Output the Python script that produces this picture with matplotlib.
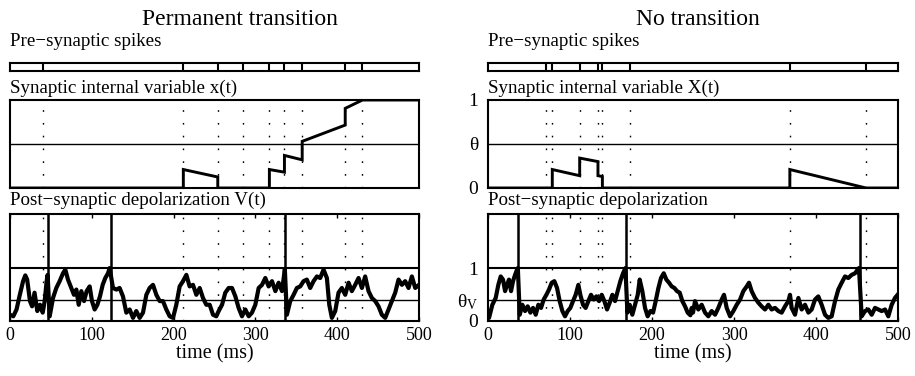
import matplotlib
matplotlib.use('Agg')
import matplotlib.pyplot as plt

plt.rcParams['font.family'] = ['Liberation Serif', 'DejaVu Serif']
plt.rcParams['mathtext.fontset'] = 'custom'
plt.rcParams['mathtext.rm'] = 'Liberation Serif'

W, H = 915, 376

# pre-synaptic spike times (ms)
pre_left = [40.7, 211.9, 254, 285.3, 317.1, 335.5, 357.2, 409.8, 430.9]
pre_right = [70.4, 78.4, 111.8, 134.1, 139.5, 172.8, 368.1, 461]

# post-synaptic spike times (ms)
post_left = [46.5, 123, 336.6]
post_right = [36.6, 167.8, 453.7]

# synaptic internal variable X(t)
x_t_left = [0, 211.9, 211.9, 254, 254, 317.1, 317.1, 335.5, 335.5, 357.2, 357.2,
            409.8, 409.8, 430.9, 500]
x_v_left = [0, 0, 0.21, 0.125, 0, 0, 0.21, 0.18, 0.37, 0.32, 0.53,
            0.715, 0.905, 1.0, 1.0]
x_t_right = [0, 78.4, 78.4, 111.8, 111.8, 134.1, 134.1, 139.5, 139.5, 368.1, 368.1, 461, 500]
x_v_right = [0, 0, 0.21, 0.14, 0.34, 0.30, 0.14, 0.13, 0, 0, 0.21, 0, 0]

theta_x = 0.5
theta_v = 0.4

# post-synaptic depolarization V(t)
v_t_left = [0, 4, 8, 12, 16, 18.7, 21, 24.4, 27, 30, 33.4, 36.7, 40, 42.4, 44.8, 46,
            48.5, 52.6, 56.6, 60.7, 64.8, 67.6, 70.9, 75, 78.2, 81.1, 84, 87.2, 90.5, 93.7,
            97.4, 100.2, 103.5, 106.8, 110, 113.3, 116.5, 119.8, 121.8,
            125.9, 130, 134, 138.1, 142.2, 146.3, 150.4, 154.4, 158.5, 162.6, 166.7, 170.7,
            174.8, 178.9, 183, 187, 191.1, 195.2, 199.3, 203.3, 207.4, 211.5, 215.6, 219.6,
            223.7, 227.8, 231.9, 235.9, 240, 244.1, 248.2, 252.2,
            255.1, 259.2, 263.2, 267.3, 271.4, 275.5, 279.5, 283.6, 287.7, 291.8, 295.8,
            299.9, 304, 308.1, 312.1, 316.2, 320.3, 324.4, 328.4, 332.5, 334.5, 336,
            338.5, 342.6, 346.7, 350.7, 354.8, 358.9, 362.9, 367, 371.1, 375.2, 379.2,
            383.3, 387.4, 390.3, 393.5, 397.6, 401.6, 405.7, 409.8, 413.9, 417.9, 422,
            426.1, 430.2, 434.2, 438.3, 442.4, 446.5, 450.5, 454.6, 458.7, 462.8, 466.8,
            470.9, 475, 479.1, 483.1, 487.2, 491.3, 495.4, 500]
v_left = [0.11, 0.08, 0.21, 0.49, 0.75, 0.86, 0.78, 0.37, 0.27, 0.53, 0.18, 0.30, 0.15, 0.37, 0.75, 0.87,
          0.08, 0.43, 0.62, 0.75, 0.9, 0.97, 0.78, 0.62, 0.49, 0.59, 0.3, 0.56, 0.37, 0.56,
          0.65, 0.37, 0.21, 0.3, 0.46, 0.68, 0.81, 0.9, 1.0,
          0.62, 0.59, 0.62, 0.46, 0.15, 0.21, 0.05, 0.18, 0.05, 0.15, 0.49, 0.62,
          0.68, 0.49, 0.37, 0.37, 0.21, 0.08, 0.05, 0.3, 0.65, 0.75, 0.87, 0.65,
          0.68, 0.49, 0.62, 0.43, 0.3, 0.3, 0.11, 0.08,
          0.18, 0.3, 0.53, 0.62, 0.62, 0.46, 0.24, 0.08, 0.21, 0.08, 0.15,
          0.3, 0.62, 0.68, 0.81, 0.65, 0.75, 0.56, 0.72, 0.56, 0.8, 0.98,
          0.11, 0.37, 0.49, 0.62, 0.65, 0.75, 0.78, 0.62, 0.75, 0.84, 0.81,
          0.97, 0.81, 0.3, 0.05, 0.18, 0.53, 0.62, 0.49, 0.72, 0.56, 0.68,
          0.81, 0.62, 0.84, 0.56, 0.43, 0.37, 0.27, 0.11, 0.05, 0.21, 0.37,
          0.53, 0.78, 0.68, 0.75, 0.62, 0.84, 0.62, 0.68]

v_t_right = [0, 1.3, 5.3, 9.4, 12.6, 15.5, 18.3, 20.8, 23.2, 25.6, 28.1, 30.5, 33, 35.4, 36.4,
             38.7, 41.9, 45.2, 48.4, 51.7, 54.9, 58.2, 61.4, 64.7, 67.9, 71.2, 74.4, 77.7,
             80.9, 84.2, 87.4, 90.7, 93.9, 97.2, 100.4, 103.7, 106.9, 110.2, 112.6, 115.9,
             119.1, 122.4, 125.6, 128.9, 132.1, 135.4, 138.7, 141.9, 145.2, 148.4, 151.7,
             154.9, 158.2, 161.4, 164.7, 166.7, 167.6,
             170, 172.8, 176, 179.3, 182.6, 185, 188.2, 191.5, 194.7, 198, 201.3, 204.5,
             207.8, 211, 214.3, 217.5, 220.8, 224, 227.3, 230.5, 233.8, 237, 240.3, 243.5,
             246.8, 248.4, 250, 252.5, 256.5, 260.6, 264.7, 268.7, 272.8, 276.9, 280.9, 285,
             287.8, 291.1, 295.2, 299.2, 303.3, 307.4, 311.4, 315.5, 318.3, 321.5, 325.6,
             329.7, 333.7, 337.8, 341.9, 345.9, 350, 354.1, 358.1, 362.2, 366.3, 368.3,
             370.3, 374.4, 378.5, 382.5, 386.6, 390.7, 394.7, 398.8, 402.8, 406.9, 411, 415,
             419.1, 423.2, 427.2, 431.3, 435.4, 439.4, 443.5, 447.6, 450.8, 452.4,
             455.7, 459.8, 463.8, 467.9, 472, 476, 480.1, 484.2, 488.2, 492.3, 496.3, 500]
v_right = [0.1, 0.05, 0.3, 0.43, 0.68, 0.84, 0.78, 0.56, 0.68, 0.78, 0.56, 0.75, 0.87, 0.97, 1.0,
           0.11, 0.3, 0.18, 0.27, 0.15, 0.24, 0.11, 0.3, 0.24, 0.4, 0.49, 0.59, 0.72,
           0.75, 0.62, 0.37, 0.18, 0.08, 0.18, 0.24, 0.37, 0.49, 0.68, 0.49, 0.3,
           0.24, 0.37, 0.49, 0.4, 0.46, 0.37, 0.49, 0.37, 0.21, 0.34, 0.49,
           0.37, 0.56, 0.75, 0.9, 0.97, 1.0,
           0.15, 0.3, 0.11, 0.3, 0.49, 0.78, 0.56, 0.24, 0.08, 0.18, 0.15, 0.37,
           0.62, 0.81, 0.9, 0.78, 0.72, 0.65, 0.62, 0.56, 0.53, 0.37, 0.27, 0.15,
           0.1, 0.24, 0.15, 0.37, 0.21, 0.3, 0.15, 0.08, 0.18, 0.11, 0.24, 0.4,
           0.49, 0.24, 0.08, 0.18, 0.3, 0.4, 0.56, 0.65, 0.72, 0.56, 0.43,
           0.34, 0.27, 0.21, 0.3, 0.21, 0.24, 0.18, 0.15, 0.27, 0.37, 0.49,
           0.24, 0.11, 0.43, 0.21, 0.3, 0.15, 0.21, 0.4, 0.46, 0.3, 0.11, 0.05,
           0.08, 0.37, 0.59, 0.72, 0.84, 0.81, 0.87, 0.9, 0.97, 1.0,
           0.08, 0.18, 0.21, 0.11, 0.24, 0.21, 0.18, 0.21, 0.08, 0.3, 0.43, 0.5]

titles = ['Permanent transition', 'No transition']
pre_labels = ['Pre\u2212synaptic spikes', 'Pre\u2212synaptic spikes']
x_labels = ['Synaptic internal variable x(t)', 'Synaptic internal variable X(t)']
v_labels = ['Post\u2212synaptic depolarization V(t)', 'Post\u2212synaptic depolarization']
time_ticks = [0, 100, 200, 300, 400, 500]


def box(x0, y0, x1, y1):
    # pixel box -> figure fraction
    return [x0 / W, 1 - y1 / H, (x1 - x0) / W, (y1 - y0) / H]


dots = (0, (1.2, 8))
fig = plt.figure(figsize=(W / 100, H / 100), dpi=100)

cols = [(10, 419, 240), (488, 898, 698)]
pres = [pre_left, pre_right]
posts = [post_left, post_right]
xs = [(x_t_left, x_v_left), (x_t_right, x_v_right)]
vs = [(v_t_left, v_left), (v_t_right, v_right)]

for i, (x0, x1, tx) in enumerate(cols):
    fig.text(tx / W, 1 - 25 / H, titles[i], ha='center', va='baseline', fontsize=17)
    fig.text(x0 / W, 1 - 46 / H, pre_labels[i], ha='left', va='baseline', fontsize=13.7)
    fig.text(x0 / W, 1 - 93 / H, x_labels[i], ha='left', va='baseline', fontsize=13.7)
    fig.text(x0 / W, 1 - 205 / H, v_labels[i], ha='left', va='baseline', fontsize=13.7)

    # raster
    ax1 = fig.add_axes(box(x0, 63, x1, 70.5))
    for t in pres[i]:
        ax1.axvline(t, color='k', lw=1.5)
    ax1.set_xlim(0, 500)
    ax1.set_ylim(0, 1)
    ax1.set_xticks([])
    ax1.set_yticks([])

    # synaptic variable
    ax2 = fig.add_axes(box(x0, 100, x1, 188))
    for t in pres[i]:
        ax2.axvline(t, color='k', lw=1, ls=dots)
    ax2.axhline(theta_x, color='k', lw=1)
    ax2.plot(xs[i][0], xs[i][1], color='k', lw=2.1, solid_joinstyle='miter')
    ax2.set_xlim(0, 500)
    ax2.set_ylim(0, 1)
    ax2.set_xticks([])

    # depolarization
    ax3 = fig.add_axes(box(x0, 213.5, x1, 320.5))
    for t in pres[i]:
        ax3.axvline(t, color='k', lw=1, ls=dots, zorder=1)
    ax3.axhline(1, color='k', lw=1.5, zorder=1)
    ax3.axhline(theta_v, color='k', lw=1, zorder=1)
    for t in posts[i]:
        ax3.axvline(t, color='k', lw=1.8, zorder=2)
    ax3.plot(vs[i][0], vs[i][1], color='k', lw=3.0, zorder=3)
    ax3.set_xlim(0, 500)
    ax3.set_ylim(0, 2.04)
    ax3.set_xticks(time_ticks)
    ax3.tick_params(axis='x', direction='in', top=True, length=3, width=1,
                    labelsize=13, pad=5)
    ax3.set_xlabel('time (ms)', fontsize=14.5, labelpad=0)

    if i == 0:
        ax2.set_yticks([])
        ax3.set_yticks([])
    else:
        ax2.set_yticks([0, theta_x, 1])
        ax2.set_yticklabels(['0', '\u03b8', '1'])
        ax2.tick_params(axis='y', length=0, labelsize=14, pad=7)
        ax3.set_yticks([0, theta_v, 1])
        ax3.set_yticklabels(['0', '$\\mathregular{\u03b8_V}$', '1'])
        ax3.tick_params(axis='y', length=0, labelsize=14, pad=7)

    for ax in (ax1, ax2, ax3):
        for s in ax.spines.values():
            s.set_linewidth(1.5)

fig.savefig('out.png', dpi=100)
